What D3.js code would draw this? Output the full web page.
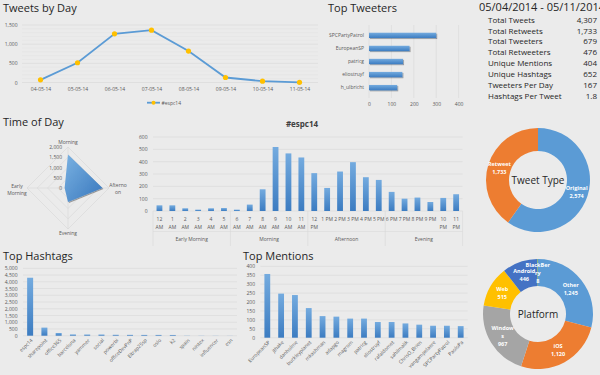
<!DOCTYPE html>
<html>
<head>
<meta charset="utf-8">
<script src="https://cdn.jsdelivr.net/npm/d3@7"></script>
<style>
  body { margin: 0; background: #ebebeb; font-family: "Open Sans", sans-serif; }
  svg { display: block; }
  .title { font-size: 11px; fill: #262626; }
  .axis text, .lbl { font-size: 5px; fill: #595959; font-family: "Open Sans", sans-serif; }
  .stat { font-size: 8px; fill: #262626; }
  .slice { font-size: 5.5px; fill: #fff; font-weight: bold; }
</style>
</head>
<body>
<script>
// ---- data ----
const days = ["04-05-14", "05-05-14", "06-05-14", "07-05-14", "08-05-14", "09-05-14", "10-05-14", "11-05-14"];
const dayTweets = [70, 515, 1270, 1365, 820, 130, 35, 5];

const tweeters = ["SPCPartyPatrol", "EuropeanSP", "patricg", "eliostruyf", "h_ulbricht"];
const tweeterCounts = [300, 181, 152, 149, 126];

const statLabels = ["Total Tweets", "Total Retweets", "Total Tweeters", "Total Retweeters",
  "Unique Mentions", "Unique Hashtags", "Tweeters Per Day", "Hashtags Per Tweet"];
const statValues = ["4,307", "1,733", "679", "476", "404", "652", "167", "1.8"];

const radarAxes = [["Morning"], ["Afterno", "on"], ["Evening"], ["Early", "Morning"]];
const radarValues = [1640, 1680, 680, 165];

const hours = ["12 AM", "1 AM", "2 AM", "3 AM", "4 AM", "5 AM", "6 AM", "7 AM", "8 AM", "9 AM", "10 AM", "11 AM",
  "12 PM", "1 PM", "2 PM", "3 PM", "4 PM", "5 PM", "6 PM", "7 PM", "8 PM", "9 PM", "10 PM", "11 PM"];
const hourCounts = [46, 46, 22, 11, 22, 24, 11, 52, 176, 519, 467, 434,
  307, 187, 320, 396, 274, 252, 155, 100, 109, 73, 106, 136];
const hourGroups = ["Early Morning", "Morning", "Afternoon", "Evening"];

const tweetTypes = ["Original", "Retweet"];
const tweetTypeCounts = [2574, 1733];

const hashtags = ["espc14", "sharepoint", "office365", "barcelona", "yammer", "social", "powerbi",
  "officeDevPnP", "Eltrap25sp", "oslo", "k2", "spain", "nintex", "influencer", "esn"];
const hashtagCounts = [4300, 600, 200, 95, 90, 90, 70, 65, 60, 60, 55, 15, 12, 10, 8];

const mentions = ["EuropeanSP", "jthake", "danholme", "buckleyplanet", "mkashman", "adapgo", "magrom",
  "patricg", "eliostruyf", "rafaldomet", "sahilmalik", "ChrisO_Brien", "vangampelaere", "SPCPartyPatrol", "PaoloPa"];
const mentionCounts = [357, 247, 239, 166, 121, 118, 107, 107, 88, 88, 80, 73, 67, 67, 65];

const platforms = [["Other"], ["iOS"], ["Window", "s"], ["Web"], ["Android"], ["BlackBer", "ry"]];
const platformCounts = [1245, 1120, 967, 515, 446, 8];

const blue = "#5b9bd5";
const gridColor = "#d6d6d6";
const fmt = d3.format(",");

const svg = d3.select('body').append('svg').attr('width', 600).attr('height', 375);

const defs = svg.append('defs');
const grad = defs.append('linearGradient').attr('id', 'barGrad').attr('x1', 0).attr('y1', 0).attr('x2', 0).attr('y2', 1);
grad.append('stop').attr('offset', '0%').attr('stop-color', '#74abdf');
grad.append('stop').attr('offset', '100%').attr('stop-color', '#3c7cc1');
const rgrad = defs.append('linearGradient').attr('id', 'radarGrad').attr('x1', 0).attr('y1', 0).attr('x2', 1).attr('y2', 1);
rgrad.append('stop').attr('offset', '0%').attr('stop-color', '#7ab2e2');
rgrad.append('stop').attr('offset', '100%').attr('stop-color', '#3877bd');
defs.append('filter').attr('id', 'shadow').attr('x', '-20%').attr('y', '-20%').attr('width', '150%').attr('height', '160%')
  .append('feDropShadow').attr('dx', 1).attr('dy', 1).attr('stdDeviation', 0.7).attr('flood-opacity', 0.35);

function title(x, y, t) {
  svg.append('text').attr('class', 'title').attr('x', x).attr('y', y).text(t);
}

// horizontal gridlines + left axis labels
function yAxis(y, ticks, xLab, x0, x1, color) {
  svg.append('g').selectAll('line').data(ticks).join('line')
    .attr('x1', x0).attr('x2', x1)
    .attr('y1', d => y(d)).attr('y2', d => y(d))
    .attr('stroke', color || gridColor).attr('stroke-width', 0.6);
  svg.append('g').attr('class', 'axis').attr('transform', `translate(${xLab},0)`)
    .call(d3.axisLeft(y).tickValues(ticks).tickSize(0).tickPadding(0).tickFormat(fmt))
    .call(a => a.select('.domain').remove());
}

// ---------- Tweets by Day ----------
title(3, 11.5, "Tweets by Day");
const xDay = d3.scalePoint().domain(days).range([22, 318]).padding(0.5);
const yDay = d3.scaleLinear().domain([0, 1500]).range([82.5, 25]);
svg.append('g').selectAll('line').data(d3.range(100, 1500, 100).filter(v => v % 500))
  .join('line').attr('x1', 22).attr('x2', 318).attr('y1', d => yDay(d)).attr('y2', d => yDay(d))
  .attr('stroke', '#e2e2e2').attr('stroke-width', 0.5);
yAxis(yDay, [0, 500, 1000, 1500], 17.5, 22, 318);
svg.append('g').attr('class', 'axis').attr('transform', 'translate(0,87.5)')
  .call(d3.axisBottom(xDay).tickSize(0).tickPadding(0))
  .call(a => a.select('.domain').remove());
svg.append('path')
  .attr('d', d3.line().x((d, i) => xDay(days[i])).y(d => yDay(d))(dayTweets))
  .attr('fill', 'none').attr('stroke', blue).attr('stroke-width', 1.8);
svg.append('g').selectAll('circle').data(dayTweets).join('circle')
  .attr('cx', (d, i) => xDay(days[i])).attr('cy', d => yDay(d)).attr('r', 2.6).attr('fill', '#ffc000');
svg.append('line').attr('x1', 147).attr('x2', 160).attr('y1', 102.7).attr('y2', 102.7)
  .attr('stroke', blue).attr('stroke-width', 1.8);
svg.append('circle').attr('cx', 153.5).attr('cy', 102.7).attr('r', 2).attr('fill', '#ffc000');
svg.append('text').attr('class', 'lbl').attr('x', 161.5).attr('y', 104.5).text("#espc14");

// ---------- Top Tweeters ----------
title(328, 11.5, "Top Tweeters");
const xTw = d3.scaleLinear().domain([0, 400]).range([369, 458.6]);
const yTw = d3.scaleBand().domain(tweeters).range([25, 98]).padding(0.59);
svg.append('g').selectAll('line').data([0, 100, 200, 300, 400]).join('line')
  .attr('x1', d => xTw(d)).attr('x2', d => xTw(d)).attr('y1', 25).attr('y2', 98)
  .attr('stroke', gridColor).attr('stroke-width', 0.6);
svg.append('g').selectAll('rect').data(tweeterCounts).join('rect')
  .attr('x', xTw(0)).attr('y', (d, i) => yTw(tweeters[i]))
  .attr('width', d => xTw(d) - xTw(0)).attr('height', yTw.bandwidth())
  .attr('fill', 'url(#barGrad)').attr('filter', 'url(#shadow)');
svg.append('g').attr('class', 'axis').attr('transform', 'translate(364,0)')
  .call(d3.axisLeft(yTw).tickSize(0).tickPadding(0))
  .call(a => a.select('.domain').remove());
svg.append('g').attr('class', 'axis').attr('transform', 'translate(0,102)')
  .call(d3.axisBottom(xTw).tickValues([0, 100, 200, 300, 400]).tickSize(0).tickPadding(0))
  .call(a => a.select('.domain').remove());

// ---------- Stats ----------
title(479, 11, "05/04/2014 - 05/11/2014");
const yStat = d3.scalePoint().domain(statLabels).range([19.7, 95.7]);
svg.append('g').selectAll('text').data(statLabels).join('text')
  .attr('class', 'stat').attr('x', 488).attr('y', d => yStat(d) + 3).text(d => d);
svg.append('g').selectAll('text').data(statValues).join('text')
  .attr('class', 'stat').attr('x', 597).attr('text-anchor', 'end')
  .attr('y', (d, i) => yStat(statLabels[i]) + 3).text(d => d);

// ---------- Time of Day (radar) ----------
title(3, 126, "Time of Day");
const cx = 68, cy = 188;
const rR = d3.scaleLinear().domain([0, 2000]).range([0, 41]);
const ang = i => i * Math.PI / 2;
const pt = (i, v) => [cx + rR(v) * Math.sin(ang(i)), cy - rR(v) * Math.cos(ang(i))];
const radar = svg.append('g');
[500, 1000, 1500, 2000].forEach(v => {
  radar.append('polygon').attr('points', radarAxes.map((a, i) => pt(i, v).join(',')).join(' '))
    .attr('fill', 'none').attr('stroke', gridColor).attr('stroke-width', 0.6);
});
radarAxes.forEach((a, i) => {
  const p = pt(i, 2000);
  radar.append('line').attr('x1', cx).attr('y1', cy).attr('x2', p[0]).attr('y2', p[1])
    .attr('stroke', gridColor).attr('stroke-width', 0.6);
});
radar.append('polygon').attr('points', radarValues.map((v, i) => pt(i, v).join(',')).join(' '))
  .attr('fill', 'url(#radarGrad)').attr('filter', 'url(#shadow)');
radar.append('g').selectAll('text').data([0, 500, 1000, 1500, 2000]).join('text')
  .attr('class', 'lbl').attr('x', 62).attr('text-anchor', 'end')
  .attr('y', d => cy - rR(d) + 2).text(d => fmt(d));
const axisLabelPos = [[68, 142.5], [118, 188.5], [68, 233.5], [17, 189.5]];
radarAxes.forEach((lines, i) => {
  const [x, y] = axisLabelPos[i];
  const t = radar.append('text').attr('class', 'lbl').attr('text-anchor', 'middle');
  lines.forEach((l, k) => t.append('tspan').attr('x', x)
    .attr('y', y + 1.8 + (k - (lines.length - 1) / 2) * 7).text(l));
});

// ---------- Hourly bar chart ----------
svg.append('text').attr('x', 302).attr('y', 127).attr('text-anchor', 'middle')
  .attr('font-size', 8).attr('font-weight', 'bold').attr('fill', '#404040').text("#espc14");
const xH = d3.scaleBand().domain(hours).range([153, 462.6]).paddingInner(0.55).paddingOuter(0.275);
const yH = d3.scaleLinear().domain([0, 600]).range([211, 137]);
yAxis(yH, d3.range(0, 601, 100), 147.5, 153, 462.6);
svg.append('g').selectAll('rect').data(hourCounts).join('rect')
  .attr('x', (d, i) => xH(hours[i])).attr('y', d => yH(d))
  .attr('width', xH.bandwidth()).attr('height', d => yH(0) - yH(d))
  .attr('fill', 'url(#barGrad)');
const hx0 = xH.range()[0], hStep = xH.step();
hours.forEach((h, i) => {
  const x = hx0 + hStep * (i + 0.5);
  const parts = h.split(' ');
  const wrap = !(parts[1] === 'PM' && parts[0].length === 1);
  const lines = wrap ? parts : [h];
  const t = svg.append('text').attr('class', 'lbl').attr('text-anchor', 'middle').attr('font-size', 5.5);
  lines.forEach((l, k) => t.append('tspan').attr('x', x).attr('y', 221.3 + k * 7.7).text(l));
});
d3.range(5).forEach(k => {
  const x = hx0 + k * 6 * hStep;
  svg.append('line').attr('x1', x).attr('x2', x).attr('y1', 211).attr('y2', 246)
    .attr('stroke', gridColor).attr('stroke-width', 0.6);
});
svg.append('line').attr('x1', hx0).attr('x2', 462.6).attr('y1', 231.5).attr('y2', 231.5)
  .attr('stroke', gridColor).attr('stroke-width', 0.5);
svg.append('g').selectAll('text').data(hourGroups).join('text')
  .attr('class', 'lbl').attr('text-anchor', 'middle').attr('font-size', 5.5)
  .attr('x', (d, i) => hx0 + (i * 6 + 3) * hStep).attr('y', 241).text(d => d);

// ---------- donuts ----------
function donut(cxD, cyD, rIn, rOut, labels, counts, colors, centerText) {
  const g = svg.append('g').attr('transform', `translate(${cxD},${cyD})`);
  const pie = d3.pie().sort(null).value(d => d)(counts);
  const arc = d3.arc().innerRadius(rIn).outerRadius(rOut);
  g.selectAll('path').data(pie).join('path').attr('d', arc).attr('fill', (d, i) => colors[i]);
  pie.forEach((p, i) => {
    const [x, y] = arc.centroid(p);
    const lines = [].concat(labels[i], [fmt(counts[i])]);
    const t = g.append('text').attr('class', 'slice').attr('text-anchor', 'middle');
    lines.forEach((l, k) => t.append('tspan').attr('x', x)
      .attr('y', y + 2 + (k - (lines.length - 1) / 2) * 8).text(l));
  });
  g.append('text').attr('text-anchor', 'middle').attr('y', 3.5).attr('font-size', 10)
    .attr('fill', '#262626').text(centerText);
}
donut(538, 180, 29, 52, tweetTypes, tweetTypeCounts, [blue, "#ed7d31"], "Tweet Type");
donut(538, 314, 28, 55, platforms, platformCounts,
  [blue, "#ed7d31", "#a5a5a5", "#ffc000", "#4472c4", "#70ad47"], "Platform");

// ---------- rotated-label bar charts ----------
function catBars(cats, counts, x0, x1, y, ticks, xLab) {
  const x = d3.scaleBand().domain(cats).range([x0, x1]).paddingInner(0.58).paddingOuter(0.29);
  yAxis(y, ticks, xLab, x0, x1);
  svg.append('g').selectAll('rect').data(counts).join('rect')
    .attr('x', (d, i) => x(cats[i])).attr('y', d => y(d))
    .attr('width', x.bandwidth()).attr('height', d => y(0) - y(d))
    .attr('fill', 'url(#barGrad)');
  svg.append('g').selectAll('text').data(cats).join('text')
    .attr('class', 'lbl').attr('font-size', 5.5).attr('text-anchor', 'end')
    .attr('transform', d => `translate(${x(d) + x.bandwidth() / 2 + 3},${y(0) + 5}) rotate(-45)`)
    .text(d => d);
}

title(3, 260, "Top Hashtags");
catBars(hashtags, hashtagCounts, 23, 237,
  d3.scaleLinear().domain([0, 5000]).range([335.7, 268.3]), d3.range(0, 5001, 500), 17.5);

title(243, 260, "Top Mentions");
catBars(mentions, mentionCounts, 260.4, 467.6,
  d3.scaleLinear().domain([0, 400]).range([337.7, 266.3]), d3.range(0, 401, 50), 255);
</script>
</body>
</html>
